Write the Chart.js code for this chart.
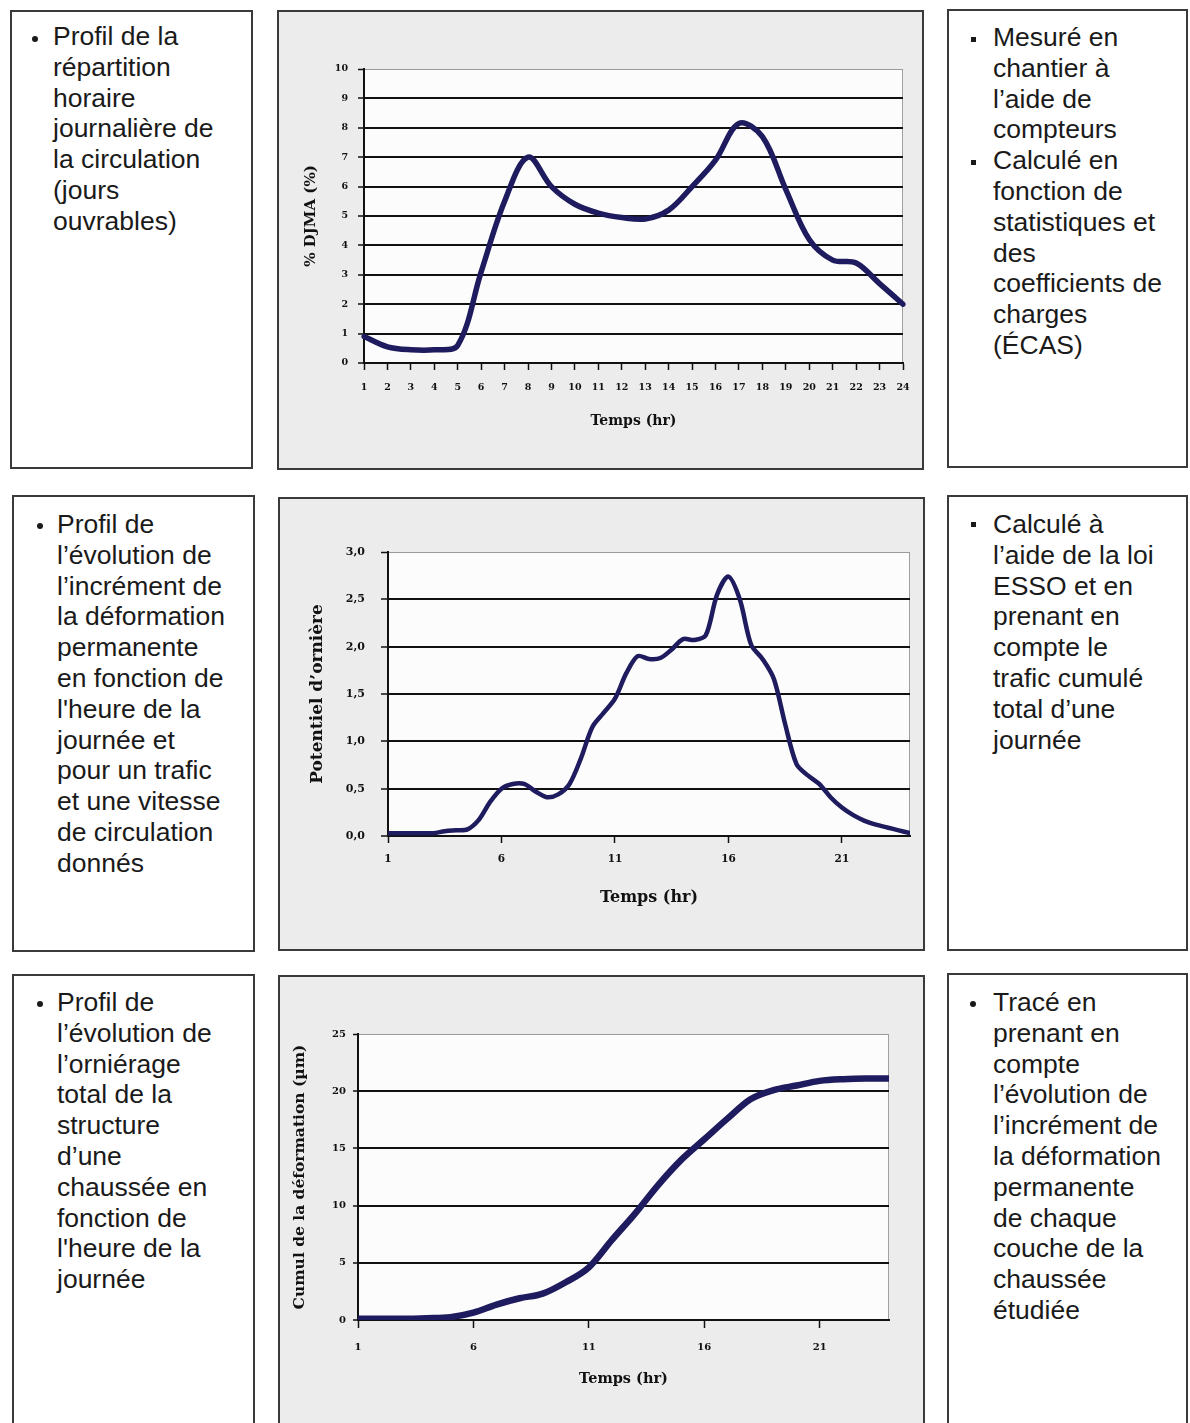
<!DOCTYPE html>
<html>
<head>
<meta charset="utf-8">
<script src="https://cdn.jsdelivr.net/npm/chart.js"></script>
<style>
body { margin: 0; width: 1190px; height: 1423px; overflow: hidden; background: #fff; position: relative;
       font-family: "Liberation Sans", Arial, sans-serif; }
.box { position: absolute; box-sizing: border-box; border: 2px solid #3a3a3a; background: #fff; }
.grey { background: #ececec; }
.txt { position: absolute; font-size: 26.5px; line-height: 30.8px; color: #1a1a1a; white-space: nowrap; }
.dot { position: absolute; width: 6px; height: 6px; border-radius: 50%; background: #1a1a1a; }
.sq { position: absolute; width: 5px; height: 5px; background: #1a1a1a; }
canvas { position: absolute; }
</style>
</head>
<body>

<div class="box" style="left:10px;top:10px;width:243px;height:459px"></div>
<div class="box grey" style="left:277px;top:10px;width:647px;height:460px"></div>
<div class="box" style="left:947px;top:9px;width:241px;height:459px"></div>

<div class="box" style="left:12px;top:495px;width:243px;height:457px"></div>
<div class="box grey" style="left:278px;top:497px;width:647px;height:454px"></div>
<div class="box" style="left:947px;top:495px;width:241px;height:456px"></div>

<div class="box" style="left:12px;top:974px;width:243px;height:470px"></div>
<div class="box grey" style="left:278px;top:975px;width:647px;height:470px"></div>
<div class="box" style="left:947px;top:973px;width:241px;height:470px"></div>

<div class="dot" style="left:32px;top:36px"></div>
<div class="txt" style="left:53px;top:21px">Profil de la<br>répartition<br>horaire<br>journalière de<br>la circulation<br>(jours<br>ouvrables)</div>

<div class="sq" style="left:971px;top:37px"></div>
<div class="sq" style="left:971px;top:160px"></div>
<div class="txt" style="left:993px;top:22px">Mesuré en<br>chantier à<br>l’aide de<br>compteurs<br>Calculé en<br>fonction de<br>statistiques et<br>des<br>coefficients de<br>charges<br>(ÉCAS)</div>

<div class="dot" style="left:37px;top:523px"></div>
<div class="txt" style="left:57px;top:509px">Profil de<br>l’évolution de<br>l’incrément de<br>la déformation<br>permanente<br>en fonction de<br>l'heure de la<br>journée et<br>pour un trafic<br>et une vitesse<br>de circulation<br>donnés</div>

<div class="sq" style="left:971px;top:522px"></div>
<div class="txt" style="left:993px;top:509px">Calculé à<br>l’aide de la loi<br>ESSO et en<br>prenant en<br>compte le<br>trafic cumulé<br>total d’une<br>journée</div>

<div class="dot" style="left:37px;top:1001px"></div>
<div class="txt" style="left:57px;top:987px">Profil de<br>l’évolution de<br>l’orniérage<br>total de la<br>structure<br>d’une<br>chaussée en<br>fonction de<br>l'heure de la<br>journée</div>

<div class="dot" style="left:970px;top:1001px"></div>
<div class="txt" style="left:993px;top:987px">Tracé en<br>prenant en<br>compte<br>l’évolution de<br>l’incrément de<br>la déformation<br>permanente<br>de chaque<br>couche de la<br>chaussée<br>étudiée</div>

<canvas id="c1" width="643" height="456" style="left:279px;top:12px"></canvas>
<canvas id="c2" width="643" height="450" style="left:280px;top:499px"></canvas>
<canvas id="c3" width="643" height="456" style="left:280px;top:977px"></canvas>

<script>
// chart 1 : % DJMA per hour
const hours1 = ['1','2','3','4','5','6','7','8','9','10','11','12','13','14','15','16','17','18','19','20','21','22','23','24'];
const trafic = [0.9, 0.55, 0.45, 0.45, 0.6, 3.1, 5.5, 7.0, 6.0, 5.4, 5.1, 4.95, 4.9, 5.2, 6.0, 6.9, 8.15, 7.7, 5.9, 4.2, 3.5, 3.4, 2.7, 2.0];

// chart 2 : potentiel d'ornière, half-hour steps
const hours2 = [1, 1.5, 2, 2.5, 3, 3.5, 4, 4.5, 5, 5.5, 6, 6.5, 7, 7.5, 8, 8.5, 9, 9.5, 10, 10.5, 11, 11.5,
                12, 12.5, 13, 13.5, 14, 14.5, 15, 15.5, 16, 16.5, 17, 17.5, 18, 18.5, 19, 19.5, 20, 20.5,
                21, 21.5, 22, 22.5, 23, 23.5, 24];
const potentiel = [0.03, 0.03, 0.03, 0.03, 0.03, 0.05, 0.06, 0.07, 0.17, 0.36, 0.50, 0.55, 0.55, 0.47, 0.41, 0.44,
                   0.55, 0.82, 1.15, 1.30, 1.45, 1.72, 1.90, 1.87, 1.88, 1.97, 2.08, 2.07, 2.12, 2.55, 2.74, 2.50,
                   2.02, 1.87, 1.66, 1.18, 0.76, 0.64, 0.55, 0.41, 0.30, 0.22, 0.16, 0.12, 0.09, 0.06, 0.03];

// chart 3 : cumul de la déformation
const hours3 = [1, 2, 3, 4, 5, 6, 7, 8, 9, 10, 11, 12, 13, 14, 15, 16, 17, 18, 19, 20, 21, 22, 23, 24];
const cumul = [0.1, 0.1, 0.1, 0.15, 0.25, 0.65, 1.35, 1.9, 2.3, 3.3, 4.6, 7.0, 9.3, 11.8, 14.0, 15.8, 17.6, 19.3, 20.1, 20.5, 20.9, 21.05, 21.1, 21.1];

const xTicks23 = [1, 6, 11, 16, 21];
const lineColor = '#1e1b5e';
const ink = '#111';

const plotBg = {
  id: 'plotBg',
  beforeDraw(chart) {
    const a = chart.chartArea;
    const ctx = chart.ctx;
    ctx.save();
    ctx.fillStyle = '#fcfcfc';
    ctx.fillRect(a.left, a.top, a.width, a.height);
    ctx.strokeStyle = '#a0a0a0';
    ctx.lineWidth = 1;
    ctx.strokeRect(a.left + 0.5, a.top + 0.5, a.width - 1, a.height - 1);
    ctx.restore();
  }
};

function font(size) {
  return { family: '"DejaVu Serif", serif', weight: 'bold', size: size };
}

function makeChart(id, cfg) {
  new Chart(document.getElementById(id), {
    type: 'line',
    data: cfg.data,
    options: {
      responsive: false,
      animation: false,
      events: [],
      layout: { padding: cfg.padding },
      plugins: { legend: { display: false }, tooltip: { enabled: false } },
      elements: { point: { radius: 0 } },
      scales: {
        x: Object.assign({
          grid: { drawOnChartArea: false, drawTicks: true, tickLength: cfg.xTick, tickColor: ink, tickWidth: 1.5 },
          border: { color: ink, width: 2 },
          title: { display: true, text: 'Temps (hr)', color: ink, font: font(cfg.xTitle), padding: 0 },
          afterFit: s => { s.height = cfg.xHeight; }
        }, cfg.x),
        y: {
          min: 0, max: cfg.yMax,
          grid: {
            color: c => c.tick && c.tick.value === cfg.yMax ? '#9a9a9a' : ink,
            lineWidth: c => c.tick && c.tick.value === cfg.yMax ? 1 : 2,
            tickLength: cfg.yTick, tickColor: ink, tickWidth: 1.5
          },
          border: { color: ink, width: 2 },
          ticks: { stepSize: cfg.yStep, color: ink, font: font(cfg.yFont), padding: cfg.yPad, callback: cfg.yFmt },
          title: { display: true, text: cfg.yTitle, color: ink, font: font(cfg.yTitleSize), padding: 0 },
          afterFit: s => { s.width = cfg.yWidth; }
        }
      }
    },
    plugins: [plotBg]
  });
}

makeChart('c1', {
  data: { labels: hours1, datasets: [{ data: trafic, borderColor: lineColor, borderWidth: 5.5, tension: 0.35,
          borderCapStyle: 'round', borderJoinStyle: 'round' }] },
  padding: { left: 23, top: 57, right: 19, bottom: 38 },
  x: { ticks: { color: ink, font: font(9.5), padding: 12, autoSkip: false, maxRotation: 0 } },
  xTick: 7, xTitle: 14, xHeight: 67,
  yMax: 10, yStep: 1, yFont: 9.5, yPad: 10, yTick: 6, yWidth: 62,
  yTitle: '% DJMA (%)', yTitleSize: 15, yFmt: v => v
});

makeChart('c2', {
  data: { datasets: [{ data: hours2.map((h, i) => ({ x: h, y: potentiel[i] })), borderColor: lineColor, borderWidth: 4.5,
          tension: 0.3, borderCapStyle: 'round', borderJoinStyle: 'round' }] },
  padding: { left: 27, top: 53, right: 13, bottom: 42 },
  x: { type: 'linear', min: 1, max: 24,
       afterBuildTicks: s => { s.ticks = xTicks23.map(v => ({ value: v })); },
       ticks: { color: ink, font: font(10.5), padding: 10, maxRotation: 0, callback: v => String(v) } },
  xTick: 7, xTitle: 16, xHeight: 71,
  yMax: 3, yStep: 0.5, yFont: 11, yPad: 16, yTick: 7, yWidth: 81,
  yTitle: 'Potentiel d’ornière', yTitleSize: 17, yFmt: v => v.toFixed(1).replace('.', ',')
});

makeChart('c3', {
  data: { datasets: [{ data: hours3.map((h, i) => ({ x: h, y: cumul[i] })), borderColor: lineColor, borderWidth: 6.5,
          cubicInterpolationMode: 'monotone', borderCapStyle: 'round', borderJoinStyle: 'round' }] },
  padding: { left: 11, top: 57, right: 34, bottom: 45 },
  x: { type: 'linear', min: 1, max: 24,
       afterBuildTicks: s => { s.ticks = xTicks23.map(v => ({ value: v })); },
       ticks: { color: ink, font: font(10), padding: 13, maxRotation: 0, callback: v => String(v) } },
  xTick: 8, xTitle: 14.5, xHeight: 68,
  yMax: 25, yStep: 5, yFont: 10, yPad: 7, yTick: 5, yWidth: 67,
  yTitle: 'Cumul de la déformation (µm)', yTitleSize: 15.5, yFmt: v => v
});
</script>
</body>
</html>
